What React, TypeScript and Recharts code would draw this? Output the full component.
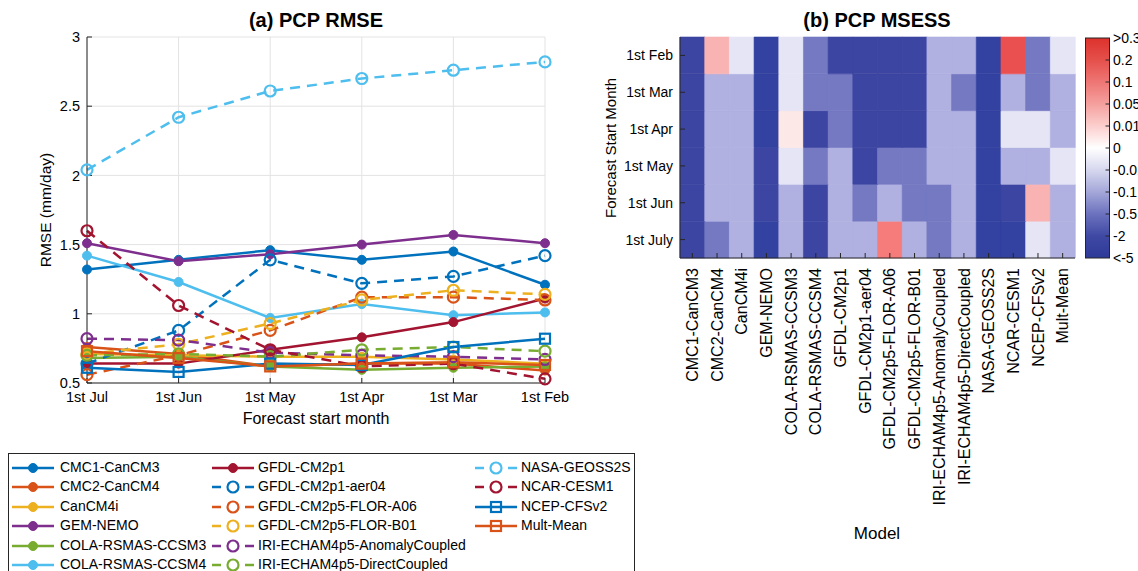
import React from 'react';
import { LineChart, Line, XAxis, YAxis, CartesianGrid, BarChart, Bar, Cell } from 'recharts';

const FONT = '"Liberation Sans", Arial, Helvetica, sans-serif';
const AX = '#262626';

// ---------- Panel (a) data ----------
const months = ['1st Jul', '1st Jun', '1st May', '1st Apr', '1st Mar', '1st Feb'];
const models = [
  'CMC1-CanCM3', 'CMC2-CanCM4', 'CanCM4i', 'GEM-NEMO', 'COLA-RSMAS-CCSM3', 'COLA-RSMAS-CCSM4',
  'GFDL-CM2p1', 'GFDL-CM2p1-aer04', 'GFDL-CM2p5-FLOR-A06', 'GFDL-CM2p5-FLOR-B01',
  'IRI-ECHAM4p5-AnomalyCoupled', 'IRI-ECHAM4p5-DirectCoupled', 'NASA-GEOSS2S', 'NCAR-CESM1',
  'NCEP-CFSv2', 'Mult-Mean',
];

const rmseCMC1 = [1.32, 1.39, 1.46, 1.39, 1.45, 1.21];
const rmseCMC2 = [0.76, 0.71, 0.62, 0.64, 0.64, 0.59];
const rmseCanCM4i = [0.71, 0.7, 0.69, 0.69, 0.67, 0.64];
const rmseGEM = [1.51, 1.38, 1.43, 1.5, 1.57, 1.51];
const rmseCCSM3 = [0.68, 0.69, 0.62, 0.595, 0.61, 0.62];
const rmseCCSM4 = [1.42, 1.23, 0.97, 1.07, 0.99, 1.01];
const rmseCM2p1 = [0.64, 0.64, 0.74, 0.83, 0.94, 1.11];
const rmseAer04 = [0.64, 0.88, 1.39, 1.22, 1.27, 1.42];
const rmseA06 = [0.56, 0.7, 0.88, 1.12, 1.12, 1.1];
const rmseB01 = [0.71, 0.78, 0.93, 1.1, 1.17, 1.14];
const rmseAnomaly = [0.82, 0.81, 0.72, 0.7, 0.69, 0.67];
const rmseDirect = [0.7, 0.71, 0.69, 0.74, 0.76, 0.73];
const rmseNASA = [2.04, 2.42, 2.61, 2.7, 2.76, 2.82];
const rmseNCAR = [1.6, 1.06, 0.74, 0.62, 0.64, 0.53];
const rmseNCEP = [0.61, 0.58, 0.64, 0.63, 0.76, 0.82];
const rmseMean = [0.73, 0.68, 0.62, 0.64, 0.65, 0.63];

const rmseSeries = [
  rmseCMC1, rmseCMC2, rmseCanCM4i, rmseGEM, rmseCCSM3, rmseCCSM4, rmseCM2p1, rmseAer04, rmseA06,
  rmseB01, rmseAnomaly, rmseDirect, rmseNASA, rmseNCAR, rmseNCEP, rmseMean,
];
const rmseTicks = [0.5, 1, 1.5, 2, 2.5, 3];

// styles
const C = {
  blue: '#0072BD', orange: '#D95319', yellow: '#EDB120', purple: '#7E2F8E',
  green: '#77AC30', cyan: '#4DBEEE', red: '#A2142F',
};
const seriesColor = [
  C.blue, C.orange, C.yellow, C.purple, C.green, C.cyan, C.red,
  C.blue, C.orange, C.yellow, C.purple, C.green, C.cyan, C.red, C.blue, C.orange,
];
const seriesDashed = [false, false, false, false, false, false, false, true, true, true, true, true, true, true, false, false];
const seriesMarker = ['dot', 'dot', 'dot', 'dot', 'dot', 'dot', 'dot', 'circle', 'circle', 'circle', 'circle', 'circle', 'circle', 'circle', 'square', 'square'];

const lineData = months.map((m, i) => {
  const row: any = { month: m };
  rmseSeries.forEach((s, k) => { row['s' + k] = s[i]; });
  return row;
});

// ---------- Panel (b) data ----------
const startMonthsTopDown = ['1st Feb', '1st Mar', '1st Apr', '1st May', '1st Jun', '1st July'];
const msessFeb = [-3, 0.03, -0.05, -6, -0.05, -1, -3, -3, -3, -3, -0.3, -0.3, -6, 0.15, -1, -0.05];
const msessMar = [-3, -0.3, -0.3, -6, -0.05, -1, -1, -3, -3, -3, -0.3, -1, -6, -0.3, -1, -0.3];
const msessApr = [-3, -0.3, -0.3, -6, 0.005, -3, -1, -3, -3, -3, -0.3, -0.3, -6, -0.03, -0.05, -0.3];
const msessMay = [-3, -0.3, -0.3, -3, -0.05, -1, -0.3, -3, -1, -1, -0.3, -0.3, -6, -0.3, -0.3, -0.05];
const msessJun = [-3, -0.3, -0.3, -3, -0.3, -3, -0.3, -1, -0.3, -1, -1, -0.3, -6, -3, 0.03, -0.3];
const msessJul = [-3, -1, -0.3, -6, -0.3, -3, -0.3, -0.3, 0.07, -0.3, -1, -0.3, -6, -6, -0.05, -0.3];
const msessRowsTopDown = [msessFeb, msessMar, msessApr, msessMay, msessJun, msessJul];
const colorbarLabels = ['>0.3', '0.2', '0.1', '0.05', '0.01', '0', '-0.01', '-0.1', '-0.5', '-2', '<-5'];

const rowsBottomUp = [...msessRowsTopDown].reverse();
const labelsBottomUp = [...startMonthsTopDown].reverse();
const heatData = models.map((m) => {
  const row: any = { model: m };
  rowsBottomUp.forEach((_, r) => { row['r' + r] = 1; });
  return row;
});
const heatTicks = labelsBottomUp.map((_, i) => i + 0.5);

function msessColor(v: number) {
  if (v <= -5) return '#3341A0';
  if (v <= -2) return '#3C45A1';
  if (v <= -0.5) return '#7479C2';
  if (v <= -0.1) return '#B0B0E1';
  if (v <= -0.01) return '#E5E5F6';
  if (v < 0) return '#F4F4FB';
  if (v < 0.01) return '#FCE8E6';
  if (v < 0.05) return '#F9B3B3';
  if (v < 0.1) return '#F67B7B';
  if (v < 0.2) return '#EB5050';
  return '#DD312C';
}

const cbStops = ['#DD312C', '#E5504B', '#EE7674', '#F5A09E', '#FBCFCD', '#FFFFFF', '#D6D7EE', '#A4A7D8', '#6C72BE', '#3F49A4', '#2E3A98'];

// ---------- marker helpers ----------
function Marker({ kind, color, cx, cy }: { kind: string; color: string; cx: number; cy: number }) {
  if (kind === 'dot') return <circle cx={cx} cy={cy} r={4.5} fill={color} stroke={color} strokeWidth={1} />;
  if (kind === 'circle') return <circle cx={cx} cy={cy} r={5.5} fill="none" stroke={color} strokeWidth={2.2} />;
  return <rect x={cx - 5} y={cy - 5} width={10} height={10} fill="none" stroke={color} strokeWidth={2.2} />;
}

const makeDot = (k: number) => (props: any) => {
  const { cx, cy, index } = props;
  if (cx == null || cy == null) return <g key={`d${k}-${index}`} />;
  return (
    <g key={`d${k}-${index}`}>
      <Marker kind={seriesMarker[k]} color={seriesColor[k]} cx={cx} cy={cy} />
    </g>
  );
};

const HeatXTick = (props: any) => {
  const { x, y, payload } = props;
  return (
    <text x={x} y={y} transform={`rotate(-90 ${x} ${y})`} textAnchor="end" dy="0.35em"
      fontSize={16} fill="#000" fontFamily={FONT}>{payload.value}</text>
  );
};

function LegendSample({ k }: { k: number }) {
  const color = seriesColor[k];
  return (
    <svg width={42} height={14} style={{ display: 'block' }}>
      <line x1={0} y1={7} x2={42} y2={7} stroke={color} strokeWidth={2.5}
        strokeDasharray={seriesDashed[k] ? '9 24' : undefined} />
      <Marker kind={seriesMarker[k]} color={color} cx={21} cy={7} />
    </svg>
  );
}

const legendCols = [
  { idx: [0, 1, 2, 3, 4, 5], sx: 12, tx: 60 },
  { idx: [6, 7, 8, 9, 10, 11], sx: 212, tx: 258 },
  { idx: [12, 13, 14, 15], sx: 475, tx: 521 },
];

export default function App() {
  return (
    <div style={{ position: 'absolute', left: 0, top: 0, width: 1138, height: 571, overflow: 'hidden', background: '#fff', fontFamily: FONT }}>
      {/* text layer */}
      <svg width={1138} height={571} style={{ position: 'absolute', left: 0, top: 0 }}>
        <text x={316} y={20} textAnchor="middle" dominantBaseline="central" fontSize={20} fontWeight="bold" fontFamily={FONT}>(a) PCP RMSE</text>
        <text x={316} y={418} textAnchor="middle" dominantBaseline="central" fontSize={16} fontFamily={FONT}>Forecast start month</text>
        <text x={45} y={210} textAnchor="middle" dominantBaseline="central" fontSize={15.5} fontFamily={FONT} transform="rotate(-90 45 210)">RMSE (mm/day)</text>
        <text x={877} y={20} textAnchor="middle" dominantBaseline="central" fontSize={20} fontWeight="bold" fontFamily={FONT}>(b) PCP MSESS</text>
        <text x={610} y={148} textAnchor="middle" dominantBaseline="central" fontSize={15} fontFamily={FONT} transform="rotate(-90 610 148)">Forecast Start Month</text>
        <text x={877} y={533} textAnchor="middle" dominantBaseline="central" fontSize={17} fontFamily={FONT}>Model</text>
      </svg>

      {/* panel a */}
      <div style={{ position: 'absolute', left: 0, top: 0 }}>
        <LineChart width={600} height={440} data={lineData} margin={{ top: 37, right: 55, bottom: 27, left: 0 }}>
          <CartesianGrid stroke="#E3E3E3" strokeWidth={1} />
          {rmseSeries.map((_, k) => (
            <Line key={k} dataKey={'s' + k} type="linear" stroke={seriesColor[k]} strokeWidth={2.5}
              strokeDasharray={seriesDashed[k] ? '10 7' : undefined} dot={makeDot(k)} activeDot={false}
              isAnimationActive={false} />
          ))}
          <XAxis dataKey="month" interval={0} stroke={AX} tickSize={-5} tickMargin={14} height={30}
            tick={{ fontSize: 14.5, fill: '#000', fontFamily: FONT }} />
          <XAxis xAxisId="top" dataKey="month" orientation="top" interval={0} stroke={AX} tickSize={-5} height={0} tick={false} />
          <YAxis type="number" domain={[0.5, 3]} ticks={rmseTicks} interval={0} width={87} stroke={AX}
            tickSize={-5} tickMargin={12} tick={{ fontSize: 14.5, fill: '#000', fontFamily: FONT }} />
          <YAxis yAxisId="right" orientation="right" type="number" domain={[0.5, 3]} ticks={rmseTicks} width={0}
            stroke={AX} tickSize={-5} tick={false} />
        </LineChart>
      </div>

      {/* legend */}
      <div style={{ position: 'absolute', left: 8, top: 453, width: 627, height: 140, border: `1px solid ${AX}`, boxSizing: 'border-box' }}>
        {legendCols.map((col, c) =>
          col.idx.map((k, r) => (
            <React.Fragment key={`${c}-${r}`}>
              <div style={{ position: 'absolute', left: col.sx - 9, top: 7 + r * 19.4 }}>
                <LegendSample k={k} />
              </div>
              <div style={{ position: 'absolute', left: col.tx - 9, top: 5 + r * 19.4, fontSize: 14, lineHeight: '17px', color: '#000', whiteSpace: 'nowrap' }}>
                {models[k]}
              </div>
            </React.Fragment>
          ))
        )}
      </div>

      {/* panel b */}
      <div style={{ position: 'absolute', left: 590, top: 0 }}>
        <BarChart width={500} height={571} data={heatData} margin={{ top: 37, right: 15, bottom: 13, left: 0 }}
          barCategoryGap={0} barGap={0}>
          {rowsBottomUp.map((vals, r) => (
            <Bar key={r} dataKey={'r' + r} stackId="a" isAnimationActive={false}>
              {vals.map((v, i) => (
                <Cell key={i} fill={msessColor(v)} stroke={msessColor(v)} strokeWidth={0.6} />
              ))}
            </Bar>
          ))}
          <XAxis dataKey="model" interval={0} stroke={AX} tickSize={-5} tickMargin={15} height={300} tick={<HeatXTick />} />
          <XAxis xAxisId="top" dataKey="model" orientation="top" interval={0} stroke={AX} tickSize={-5} height={0} tick={false} />
          <YAxis type="number" domain={[0, 6]} ticks={heatTicks} interval={0} width={90} stroke={AX}
            tickSize={-5} tickMargin={12} tickFormatter={(v: number) => labelsBottomUp[Math.floor(v)]}
            tick={{ fontSize: 14, fill: '#000', fontFamily: FONT }} />
          <YAxis yAxisId="right" orientation="right" type="number" domain={[0, 6]} ticks={heatTicks} width={0}
            stroke={AX} tickSize={-5} tick={false} />
        </BarChart>
      </div>

      {/* colorbar */}
      <svg width={58} height={240} style={{ position: 'absolute', left: 1080, top: 30 }}>
        <defs>
          <linearGradient id="cbGrad" x1="0" y1="0" x2="0" y2="1">
            {cbStops.map((c, i) => (
              <stop key={i} offset={i / (cbStops.length - 1)} stopColor={c} />
            ))}
          </linearGradient>
        </defs>
        <rect x={5.5} y={8} width={24} height={220} fill="url(#cbGrad)" stroke={AX} strokeWidth={1} />
        {colorbarLabels.map((lab, i) => {
          const y = 8 + (i * 220) / (colorbarLabels.length - 1);
          return (
            <g key={i}>
              {i > 0 && i < colorbarLabels.length - 1 && (
                <line x1={29.5} x2={25.5} y1={y} y2={y} stroke={AX} strokeWidth={1} />
              )}
              <text x={33} y={y} dominantBaseline="central" fontSize={14} fontFamily={FONT} fill="#000">{lab}</text>
            </g>
          );
        })}
      </svg>
    </div>
  );
}
